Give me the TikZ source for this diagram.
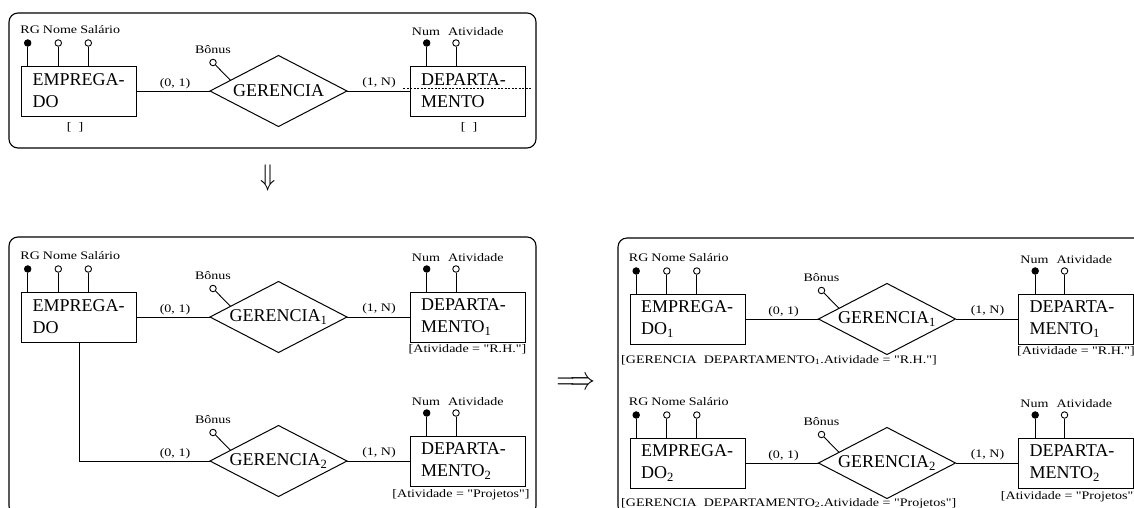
\documentclass[tikz,border=0pt]{standalone}
\usepackage{fontspec}
\setmainfont{Liberation Serif}
\newfontfamily\attfont[FakeStretch=1.22]{Liberation Serif}
\usetikzlibrary{shapes.geometric,calc}

\tikzset{
  ent/.style={draw, line width=1pt, rectangle, minimum width=115pt, minimum height=50pt,
    inner xsep=11pt, inner ysep=0pt, text width=93pt, align=left, outer sep=0pt,
    font=\fontsize{18}{22}\selectfont, anchor=north west},
  rel/.style={draw, line width=1pt, diamond, minimum width=137pt, minimum height=71pt,
    aspect=1.93, inner sep=0pt, outer sep=0pt, font=\fontsize{18}{22}\selectfont},
  att/.style={circle, draw, line width=0.9pt, fill=white, minimum size=6.5pt, inner sep=0pt},
  keyatt/.style={att, fill=black},
  stem/.style={line width=0.9pt},
  link/.style={line width=1pt},
  lbl/.style={font=\attfont\fontsize{11.5}{13}\selectfont, inner sep=0pt},
  panel/.style={draw, line width=1.1pt, rounded corners=9pt},
  dashline/.style={line width=0.7pt, dash pattern=on 2pt off 1.5pt},
  bigsym/.style={inner sep=0pt, font=\fontsize{30}{30}\selectfont},
}

% lollipop attributes of EMPREGADO
\newcommand\empatts[1]{%
  \node[keyatt] (#1a1) at ($(#1.north west)+(6,-23)$) {};
  \node[att] (#1a2) at ($(#1.north west)+(36.6,-23)$) {};
  \node[att] (#1a3) at ($(#1.north west)+(66.6,-23)$) {};
  \foreach \i in {1,2,3} {\draw[stem] (#1a\i) -- (#1a\i |- #1.north);}
  \node[lbl, anchor=base west] (#1l1) at ($(#1.north west)+(-1.5,-32.5)$) {RG};
  \node[lbl, anchor=base west] (#1l2) at ($(#1.north west)+(21,-32.5)$) {Nome};
  \node[lbl, anchor=base west] (#1l3) at ($(#1.north west)+(58.5,-32.5)$) {Salário};
}
% lollipop attributes of DEPARTAMENTO
\newcommand\depatts[1]{%
  \node[keyatt] (#1a1) at ($(#1.north west)+(16.7,-23)$) {};
  \node[att] (#1a2) at ($(#1.north west)+(46,-23)$) {};
  \foreach \i in {1,2} {\draw[stem] (#1a\i) -- (#1a\i |- #1.north);}
  \node[lbl, anchor=base] (#1l1) at ($(#1.north west)+(16,-30.5)$) {Num};
  \node[lbl, anchor=base west] (#1l2) at ($(#1.north west)+(38,-30.5)$) {Atividade};
}
% relationship attribute Bônus
\newcommand\bonus[1]{%
  \node[att] (#1b) at ($(#1.west)+(3,-28.5)$) {};
  \node[lbl, anchor=base] (#1bl) at ($(#1.west)+(3,-38)$) {Bônus};
  \coordinate (#1bt) at ($(#1.west)!0.3!(#1.north)$);
  \draw[stem] (#1b) -- (#1bt);
}

\begin{document}
\begin{tikzpicture}[x=1pt, y=-1pt]
\useasboundingbox (0,0) rectangle (1134,507);
\clip (0,0) rectangle (1134,507);

% ---------- original schema ----------
\draw[panel] (9,13) rectangle (536,148);
\node[ent] (tE) at (21.7,66) {EMPREGA-\\DO};
\node[rel] (tG) at (278.5,91) {GERENCIA};
\node[ent] (tD) at (410,66) {DEPARTA-\\MENTO};
\draw[link] (tE.east) -- (tG.west);
\draw[link] (tG.east) -- (tD.west);
\empatts{tE}
\depatts{tD}
\bonus{tG}
\node[lbl] (tc1) at (175,84) {(0, 1)};
\node[lbl] (tc2) at (379,83) {(1, N)};
\node[lbl] (tEx) at (75,127) {[\ \ ]};
\node[lbl] (tDx) at (469,127) {[\ \ ]};
\coordinate (tDd1) at ($(tD.west)+(-7,-2.5)$);
\coordinate (tDd2) at ($(tD.east)+(7,-2.5)$);
\draw[dashline] (tDd1) -- (tDd2);

\node[bigsym, yscale=1.2] (down) at (268,178) {$\Downarrow$};

% ---------- split by Atividade ----------
\draw[panel] (9,237) rectangle (536,515);
\node[ent] (lE) at (21.7,292) {EMPREGA-\\DO};
\node[rel] (lG1) at (278.5,317) {GERENCIA\textsubscript{1}};
\node[ent] (lD1) at (410,292) {DEPARTA-\\MENTO\textsubscript{1}};
\node[rel] (lG2) at (278.5,461) {GERENCIA\textsubscript{2}};
\node[ent] (lD2) at (410,436) {DEPARTA-\\MENTO\textsubscript{2}};
\draw[link] (lE.east) -- (lG1.west);
\draw[link] (lG1.east) -- (lD1.west);
\draw[link] (lE.south) |- (lG2.west);
\draw[link] (lG2.east) -- (lD2.west);
\empatts{lE}
\depatts{lD1}
\depatts{lD2}
\bonus{lG1}
\bonus{lG2}
\node[lbl] (lc1) at (175,310) {(0, 1)};
\node[lbl] (lc2) at (379,309) {(1, N)};
\node[lbl] (lc3) at (175,454) {(0, 1)};
\node[lbl] (lc4) at (379,453) {(1, N)};
\node[lbl] (lD1x) at (467.5,349) {[Atividade = "R.H."]};
\node[lbl] (lD2x) at (461,495) {[Atividade = "Projetos"]};

\node[bigsym, yscale=1.3] (right) at (576,384) {$\Longrightarrow$};

% ---------- split EMPREGADO as well ----------
\draw[panel] (618,238) rectangle (1150,515);
\node[ent] (rE1) at (630.2,294) {EMPREGA-\\DO\textsubscript{1}};
\node[rel] (rG1) at (887,319) {GERENCIA\textsubscript{1}};
\node[ent] (rD1) at (1018.5,294) {DEPARTA-\\MENTO\textsubscript{1}};
\node[ent] (rE2) at (630.2,438) {EMPREGA-\\DO\textsubscript{2}};
\node[rel] (rG2) at (887,463) {GERENCIA\textsubscript{2}};
\node[ent] (rD2) at (1018.5,438) {DEPARTA-\\MENTO\textsubscript{2}};
\draw[link] (rE1.east) -- (rG1.west);
\draw[link] (rG1.east) -- (rD1.west);
\draw[link] (rE2.east) -- (rG2.west);
\draw[link] (rG2.east) -- (rD2.west);
\empatts{rE1}
\empatts{rE2}
\depatts{rD1}
\depatts{rD2}
\bonus{rG1}
\bonus{rG2}
\node[lbl] (rc1) at (783.5,312) {(0, 1)};
\node[lbl] (rc2) at (987.5,311) {(1, N)};
\node[lbl] (rc3) at (783.5,456) {(0, 1)};
\node[lbl] (rc4) at (987.5,455) {(1, N)};
\node[lbl] (rD1x) at (1076,351) {[Atividade = "R.H."]};
\node[lbl] (rD2x) at (1069.5,497) {[Atividade = "Projetos"]};
\node[lbl, anchor=base west] (rE1x) at (621,363) {[GERENCIA\ \ DEPARTAMENTO\textsubscript{1}.Atividade = "R.H."]};
\node[lbl, anchor=base west] (rE2x) at (621,506) {[GERENCIA\ \ DEPARTAMENTO\textsubscript{2}.Atividade = "Projetos"]};
\end{tikzpicture}
\end{document}
